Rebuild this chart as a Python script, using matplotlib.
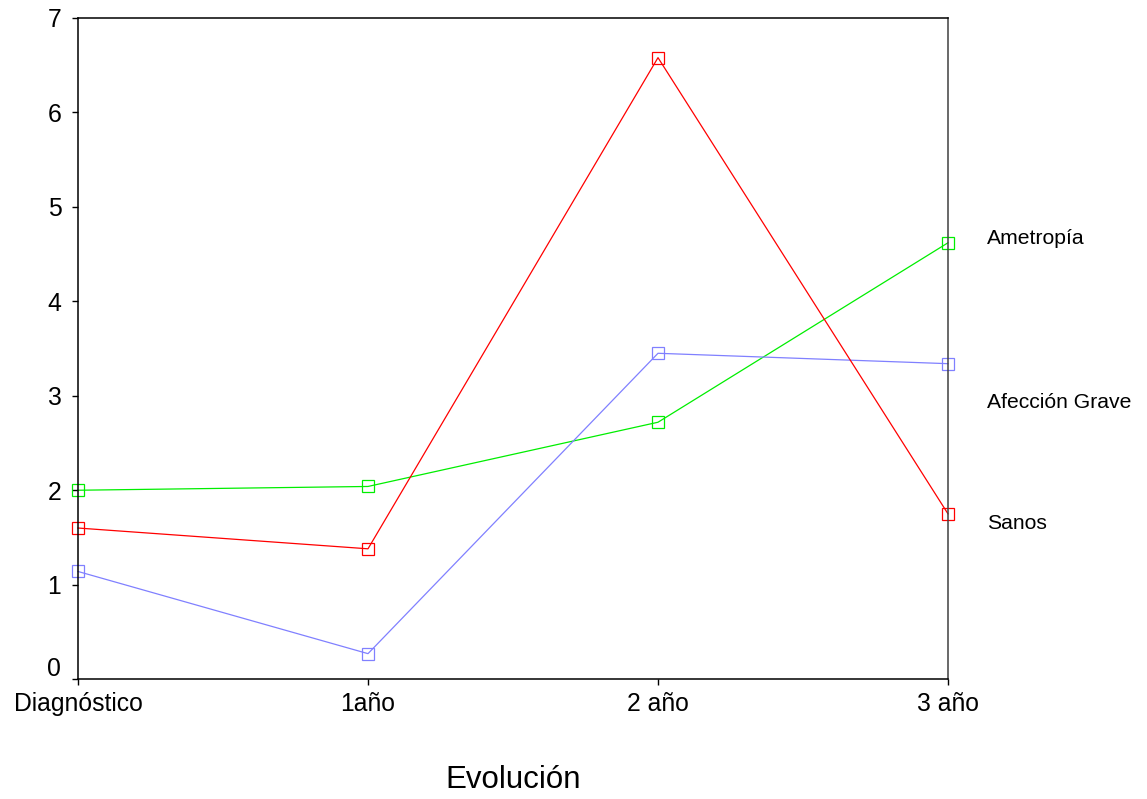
import matplotlib
matplotlib.use("Agg")
import matplotlib.pyplot as plt
import matplotlib.transforms as mtransforms

plt.rcParams['font.family'] = ['Liberation Sans', 'DejaVu Sans']

categorias = ['Diagnóstico', '1año', '2 año', '3 año']
ametropia = [2.00, 2.04, 2.72, 4.62]
afeccion_grave = [1.14, 0.27, 3.45, 3.34]
sanos = [1.60, 1.38, 6.58, 1.75]

series = [
    ('Ametropía', ametropia, '#00ee00', 4.67),
    ('Afección Grave', afeccion_grave, '#8080ff', 2.93),
    ('Sanos', sanos, '#ff0000', 1.65),
]

fig = plt.figure(figsize=(11.47, 7.99), dpi=100)
ax = fig.add_axes([0.068, 0.150, 0.7585, 0.8275])

x = list(range(len(categorias)))
for nombre, vals, col, ylab in series:
    ax.plot(x, vals, color=col, lw=0.9, marker='s', markersize=8,
            markerfacecolor='none', markeredgecolor=col, markeredgewidth=0.9,
            clip_on=False)
    # etiqueta a la derecha del grafico
    tr = mtransforms.blended_transform_factory(ax.transAxes, ax.transData)
    ax.text(1.045, ylab, nombre, transform=tr, fontsize=15.2, va='center', ha='left')

ax.set_xlim(0, 3)
ax.set_ylim(0, 7)
ax.set_xticks(x)
ax.set_xticklabels(categorias, fontsize=17.8)
ax.set_yticks(range(0, 8))
ax.set_yticklabels([str(i) for i in range(0, 8)], fontsize=17.8)
ax.tick_params(axis='y', direction='out', length=4, width=1, pad=8)
ax.tick_params(axis='x', direction='out', length=4, width=1, pad=5)

# el "0" va un poco por encima de su marca
lab0 = ax.get_yticklabels()[0]
lab0.set_transform(lab0.get_transform() +
                   mtransforms.ScaledTranslation(0, 13 / 100, fig.dpi_scale_trans))

for s in ['left', 'top', 'bottom']:
    ax.spines[s].set_color('black')
    ax.spines[s].set_linewidth(1.1)
ax.spines['right'].set_color('#404040')
ax.spines['right'].set_linewidth(1.1)

fig.text(513 / 1147, 1 - 780 / 799, 'Evolución', fontsize=22.5, ha='center', va='center')

fig.savefig('out.png', dpi=100)
